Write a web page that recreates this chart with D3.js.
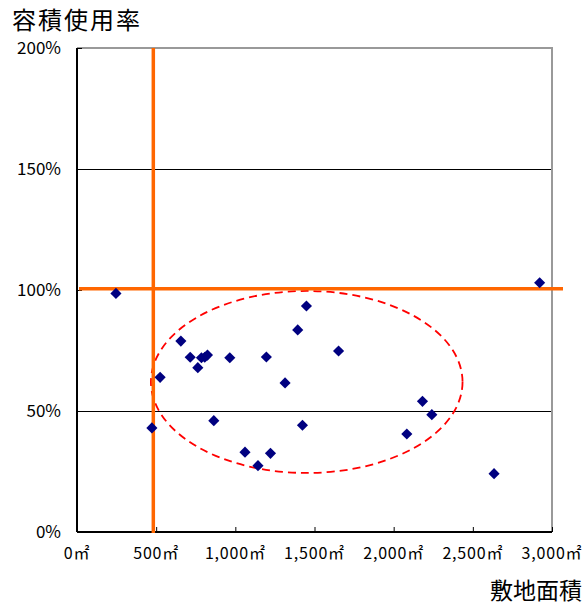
<!DOCTYPE html>
<html><head><meta charset="utf-8">
<script src="https://cdn.jsdelivr.net/npm/d3@7"></script>
<style>body{margin:0;background:#fff}svg{display:block}text{font-family:"Noto Sans CJK JP","Noto Sans",sans-serif}</style>
</head><body><svg id="c" width="586" height="607"></svg>
<script>
const siteArea = [246,473,525,656,715,763,786,807,824,864,965,1061,1143,1196,1222,1314,1394,1424,1449,1652,2083,2182,2241,2634,2922];
const usageRate = [98.6,43.0,63.9,78.9,72.2,67.9,72.0,72.2,73.1,46.0,72.0,33.0,27.4,72.3,32.5,61.6,83.5,44.1,93.4,74.8,40.5,54.0,48.5,24.1,103.0];
const xTicks = [0,500,1000,1500,2000,2500,3000];
const xTickLabels = ["0㎡","500㎡","1,000㎡","1,500㎡","2,000㎡","2,500㎡","3,000㎡"];
const yTicks = [0,50,100,150,200];
const yTickLabels = ["0%","50%","100%","150%","200%"];
const refX = [482];   // vertical reference line (m²)
const refY = [100.5]; // horizontal reference line (%)
const ellipse = {cx:1451, cy:62, rx:984, ry:37.6};
const yTitle = "容積使用率", xTitle = "敷地面積";

const svg = d3.select("#c");
const L=77, R=552, T=48, B=532;
const x = d3.scaleLinear().domain([0,3000]).range([L,R]);
const y = d3.scaleLinear().domain([0,200]).range([B,T]);

svg.selectAll(".grid").data([50,150]).join("line")
  .attr("x1",L).attr("x2",R).attr("y1",d=>y(d)).attr("y2",d=>y(d))
  .attr("stroke","#000").attr("stroke-width",1).attr("shape-rendering","crispEdges");

svg.append("line").attr("x1",L).attr("x2",R).attr("y1",T).attr("y2",T).attr("stroke","#999").attr("stroke-width",2);
svg.append("line").attr("x1",R).attr("x2",R).attr("y1",T-1).attr("y2",B).attr("stroke","#999").attr("stroke-width",2);

const xAxis = d3.axisBottom(x).tickValues(xTicks).tickSize(-5).tickFormat("");
const gx = svg.append("g").attr("transform",`translate(0,${B})`).call(xAxis);
gx.select(".domain").attr("stroke","#000").attr("stroke-width",2).attr("d",`M${L},0H${R}`);
gx.selectAll(".tick line").attr("stroke","#000");
const yAxis = d3.axisLeft(y).tickValues(yTicks).tickSize(-5).tickFormat("");
const gy = svg.append("g").attr("transform",`translate(${L},0)`).call(yAxis);
gy.select(".domain").attr("stroke","#000").attr("stroke-width",2).attr("d",`M0,${B}V${T}`);
gy.selectAll(".tick line").attr("stroke","#000");

svg.selectAll(".xl").data(xTicks).join("text")
  .attr("x",d=>x(d)).attr("y",559).attr("text-anchor","middle")
  .attr("font-size",16).attr("letter-spacing",0.8).attr("fill","#000").text((d,i)=>xTickLabels[i]);
svg.selectAll(".yl").data(yTicks).join("text")
  .attr("x",L-16).attr("y",d=>y(d)+6).attr("text-anchor","end")
  .attr("font-size",17).attr("fill","#000").text((d,i)=>yTickLabels[i]);

svg.append("text").attr("x",12).attr("y",29).attr("font-size",24).attr("letter-spacing",2).attr("fill","#000").text(yTitle);
svg.append("text").attr("x",582).attr("y",599).attr("text-anchor","end").attr("font-size",23).attr("fill","#000").text(xTitle);

svg.append("ellipse").attr("cx",x(ellipse.cx)).attr("cy",y(ellipse.cy))
  .attr("rx",x(ellipse.rx)-x(0)).attr("ry",y(0)-y(ellipse.ry))
  .attr("fill","none").attr("stroke","#ff0000").attr("stroke-width",1.8).attr("stroke-dasharray","8,5");

svg.selectAll(".rx").data(refX).join("line")
  .attr("x1",d=>x(d)).attr("x2",d=>x(d)).attr("y1",T).attr("y2",B+1)
  .attr("stroke","#ff6600").attr("stroke-width",3.5);
svg.selectAll(".ry").data(refY).join("line")
  .attr("x1",L+2).attr("x2",563).attr("y1",d=>y(d)).attr("y2",d=>y(d))
  .attr("stroke","#ff6600").attr("stroke-width",3.5);

const sym = d3.symbol().type(d3.symbolSquare).size(62);
svg.selectAll(".pt").data(siteArea).join("path")
  .attr("d",sym).attr("transform",(d,i)=>`translate(${x(d)},${y(usageRate[i])}) rotate(45)`)
  .attr("fill","#000080");
</script></body></html>
